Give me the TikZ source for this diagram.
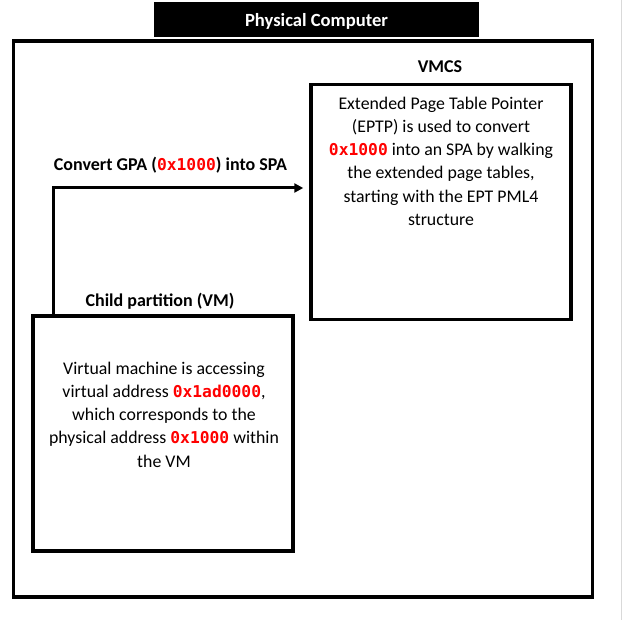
\documentclass[tikz,border=0pt]{standalone}
\usepackage{fontspec}
\setmainfont{Carlito}
\newfontfamily\codefont{DejaVu Sans Mono}
\usetikzlibrary{arrows.meta}
\newcommand{\addr}[1]{{\codefont\bfseries\color{codered}\fontsize{16.3}{23}\selectfont #1}}
\definecolor{codered}{RGB}{255,0,0}
\tikzset{
  frame/.style={draw=black, line width=3.5pt, inner sep=0pt},
  boxtext/.style={align=center, font=\fontsize{17.8}{23.3}\selectfont, inner sep=0pt},
  lbl/.style={font=\bfseries\fontsize{18}{21}\selectfont, inner sep=0pt},
  conn/.style={line width=3pt, -{Triangle[length=9pt,width=9pt]}},
}
\begin{document}
\begin{tikzpicture}[x=1pt,y=-1pt]
\useasboundingbox (0,0) rectangle (624,620);
\fill[white] (0,0) rectangle (624,620);
\draw[gray!30, line width=1pt] (621,0) -- (621,620);
% title
\node[fill=black, minimum width=325pt, minimum height=35pt, inner sep=0pt] (title) at (316.5,19.5) {};
\node[lbl, text=white, font=\bfseries\fontsize{18.6}{21}\selectfont] (titletext) at ([yshift=-1.5pt]title.center) {Physical Computer};
% outer frame
\node[frame, minimum width=579pt, minimum height=556pt] (pc) at (303,319) {};
% VMCS
\node[frame, minimum width=260pt, minimum height=235pt] (vmcs) at (441,202) {};
\node[lbl] (vmcslbl) at (440,67) {VMCS};
\node[boxtext, anchor=north] (vmcstext) at (441,96.5) {Extended Page Table Pointer\\(EPTP) is used to convert\\\addr{0x1000} into an SPA by walking\\the extended page tables,\\starting with the EPT PML4\\structure};
% Child
\node[frame, minimum width=260pt, minimum height=235pt] (child) at (163,433.5) {};
\node[lbl] (childlbl) at (160,301.5) {Child partition (VM)};
\node[boxtext, anchor=north] (childtext) at (164,361.5) {Virtual machine is accessing\\virtual address \addr{0x1ad0000},\\which corresponds to the\\physical address \addr{0x1000} within\\the VM};
% connector
\draw[conn, shorten >=6pt] ([xshift=22pt]child.north west) |- ([yshift=14pt]vmcs.west);
\node[lbl] (convlbl) at (170.5,165) {Convert GPA (\addr{0x1000}) into SPA};
\end{tikzpicture}
\end{document}
